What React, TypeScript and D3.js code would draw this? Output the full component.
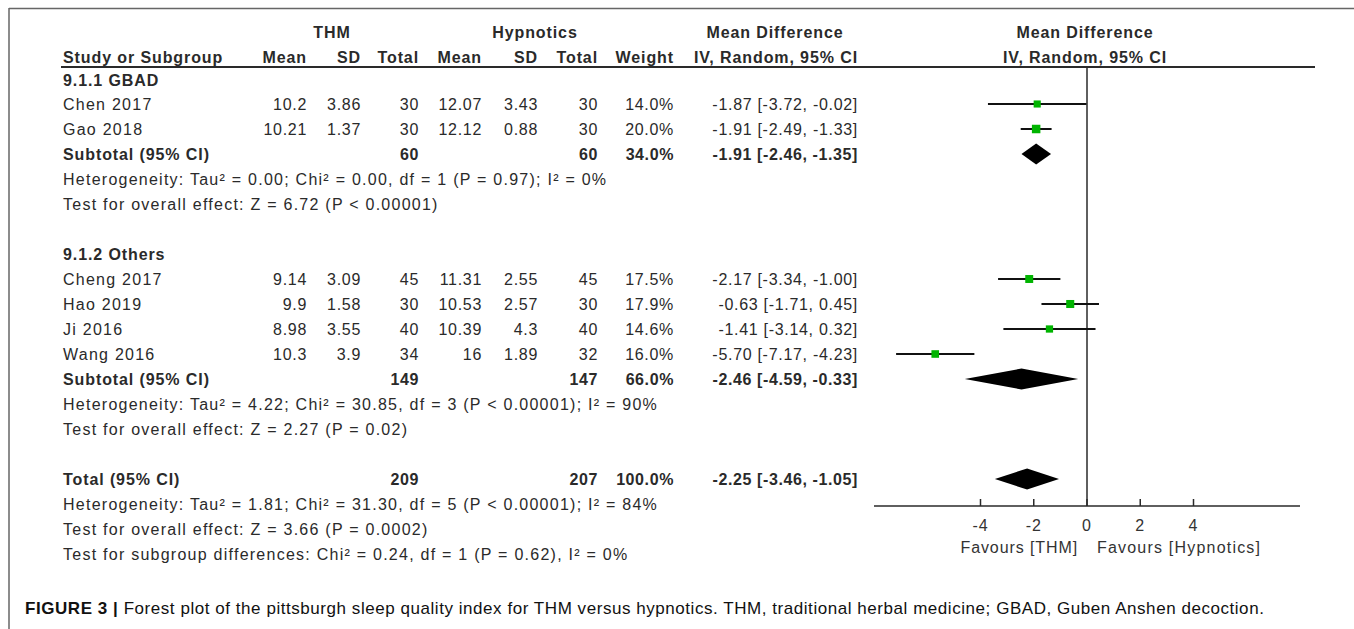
import React from 'react'
import * as d3 from 'd3'

// study rows per subgroup
const groupNames = ['9.1.1 GBAD', '9.1.2 Others']
const studyNames = [['Chen 2017', 'Gao 2018'], ['Cheng 2017', 'Hao 2019', 'Ji 2016', 'Wang 2016']]
const thmMean = [['10.2', '10.21'], ['9.14', '9.9', '8.98', '10.3']]
const thmSD = [['3.86', '1.37'], ['3.09', '1.58', '3.55', '3.9']]
const thmN = [[30, 30], [45, 30, 40, 34]]
const hypMean = [['12.07', '12.12'], ['11.31', '10.53', '10.39', '16']]
const hypSD = [['3.43', '0.88'], ['2.55', '2.57', '4.3', '1.89']]
const hypN = [[30, 30], [45, 30, 40, 32]]
const weights = [[14.0, 20.0], [17.5, 17.9, 14.6, 16.0]]
const md = [[-1.87, -1.91], [-2.17, -0.63, -1.41, -5.7]]
const lower = [[-3.72, -2.49], [-3.34, -1.71, -3.14, -7.17]]
const upper = [[-0.02, -1.33], [-1.0, 0.45, 0.32, -4.23]]

// subtotals
const subN1 = [60, 149]
const subN2 = [60, 147]
const subWeight = [34.0, 66.0]
const subMd = [-1.91, -2.46]
const subLo = [-2.46, -4.59]
const subHi = [-1.35, -0.33]
const subHet = [
  'Heterogeneity: Tau² = 0.00; Chi² = 0.00, df = 1 (P = 0.97); I² = 0%',
  'Heterogeneity: Tau² = 4.22; Chi² = 30.85, df = 3 (P < 0.00001); I² = 90%'
]
const subTest = [
  'Test for overall effect: Z = 6.72 (P < 0.00001)',
  'Test for overall effect: Z = 2.27 (P = 0.02)'
]

// overall
const totalN = [209, 207]
const totalMd = [-2.25, -3.46, -1.05]
const totalNotes = [
  'Heterogeneity: Tau² = 1.81; Chi² = 31.30, df = 5 (P < 0.00001); I² = 84%',
  'Test for overall effect: Z = 3.66 (P = 0.0002)',
  'Test for subgroup differences: Chi² = 0.24, df = 1 (P = 0.62), I² = 0%'
]

const axisTicks = [-4, -2, 0, 2, 4]
const axisDomain = [-8, 8]

const FONT = '"Liberation Sans", Arial, sans-serif'
const INK = '#2a2a2a'
const GREEN = '#00b400'

const fmt = (v: number) => v.toFixed(2)
const ciText = (m: number, l: number, h: number) => `${fmt(m)} [${fmt(l)}, ${fmt(h)}]`

export default function App() {
  const W = 1354
  const H = 629
  const x = d3.scaleLinear().domain(axisDomain).range([874, 1300])
  const box = d3.scaleSqrt().domain([0, 20]).range([0, 8.5])

  const rowStep = 25
  const firstRow = 104
  const col = { name: 63, m1: 307, sd1: 361, n1: 419, m2: 482, sd2: 538, n2: 598, w: 674, ci: 858 }
  const axisY = 506

  // build the row list
  type Row = { kind: string; y: number; g?: number; s?: number; text?: string }
  const rows: Row[] = []
  let idx = 0
  const yAt = (i: number) => firstRow + rowStep * (i - 1)
  groupNames.forEach((name, g) => {
    rows.push({ kind: 'group', y: g === 0 ? 80 : yAt(idx), text: name, g })
    idx++
    studyNames[g].forEach((_, s) => {
      rows.push({ kind: 'study', y: yAt(idx), g, s })
      idx++
    })
    rows.push({ kind: 'sub', y: yAt(idx), g })
    idx++
    rows.push({ kind: 'note', y: yAt(idx), text: subHet[g] })
    idx++
    rows.push({ kind: 'note', y: yAt(idx), text: subTest[g] })
    idx += 2
  })
  rows.push({ kind: 'total', y: yAt(idx) })
  idx++
  totalNotes.forEach(t => {
    rows.push({ kind: 'note', y: yAt(idx), text: t })
    idx++
  })
  const totalY = rows.find(r => r.kind === 'total')!.y

  const base = (y: number) => y + 6
  // ls: letter spacing; words get a bit more room than figures, as in the original
  const txt = (s: string | number, xx: number, y: number, bold = false, anchor = 'end', ls?: number) => (
    <text x={xx} y={base(y)} textAnchor={anchor} fontWeight={bold ? 'bold' : 'normal'}
      letterSpacing={ls ?? (bold ? 0.9 : 1.25)}>{s}</text>
  )
  const num = (s: string | number, xx: number, y: number, bold = false) => txt(s, xx, y, bold, 'end', bold ? 0.6 : 0.7)

  const diamond = (m: number, l: number, h: number, y: number, hh = 10.5) =>
    `M${x(l)},${y} L${x(m)},${y - hh} L${x(h)},${y} L${x(m)},${y + hh} Z`

  return (
    <svg width={W} height={H} style={{ position: 'absolute', left: 0, top: 0, background: '#fff' }}>
      {/* frame */}
      <line x1={9} x2={W} y1={8.5} y2={8.5} stroke="#666" strokeWidth={1.5} />
      <line x1={9} x2={9} y1={8} y2={H} stroke="#666" strokeWidth={1.5} />

      <g fontFamily={FONT} fontSize={16} fill={INK}>
        {/* headers */}
        {txt('THM', 332, 32, true, 'middle')}
        {txt('Hypnotics', 535, 32, true, 'middle')}
        {txt('Mean Difference', 775, 32, true, 'middle')}
        {txt('Mean Difference', 1085, 32, true, 'middle')}
        {txt('Study or Subgroup', col.name, 57, true, 'start')}
        {txt('Mean', col.m1, 57, true)}
        {txt('SD', col.sd1, 57, true)}
        {txt('Total', col.n1, 57, true)}
        {txt('Mean', col.m2, 57, true)}
        {txt('SD', col.sd2, 57, true)}
        {txt('Total', col.n2, 57, true)}
        {txt('Weight', col.w, 57, true)}
        {txt('IV, Random, 95% CI', col.ci, 57, true)}
        {txt('IV, Random, 95% CI', 1085, 57, true, 'middle')}
        <line x1={61} x2={1315} y1={67} y2={67} stroke={INK} strokeWidth={2} />

        {rows.map((r, i) => {
          if (r.kind === 'group') return <g key={i}>{txt(r.text!, col.name, r.y, true, 'start')}</g>
          if (r.kind === 'note') return <g key={i}>{txt(r.text!, col.name, r.y, false, 'start')}</g>
          if (r.kind === 'study') {
            const g = r.g!, s = r.s!
            return (
              <g key={i}>
                {txt(studyNames[g][s], col.name, r.y, false, 'start')}
                {num(thmMean[g][s], col.m1, r.y)}
                {num(thmSD[g][s], col.sd1, r.y)}
                {num(thmN[g][s], col.n1, r.y)}
                {num(hypMean[g][s], col.m2, r.y)}
                {num(hypSD[g][s], col.sd2, r.y)}
                {num(hypN[g][s], col.n2, r.y)}
                {num(weights[g][s].toFixed(1) + '%', col.w, r.y)}
                {num(ciText(md[g][s], lower[g][s], upper[g][s]), col.ci, r.y)}
              </g>
            )
          }
          if (r.kind === 'sub') {
            const g = r.g!
            return (
              <g key={i}>
                {txt('Subtotal (95% CI)', col.name, r.y, true, 'start')}
                {num(subN1[g], col.n1, r.y, true)}
                {num(subN2[g], col.n2, r.y, true)}
                {num(subWeight[g].toFixed(1) + '%', col.w, r.y, true)}
                {num(ciText(subMd[g], subLo[g], subHi[g]), col.ci, r.y, true)}
              </g>
            )
          }
          return (
            <g key={i}>
              {txt('Total (95% CI)', col.name, r.y, true, 'start')}
              {num(totalN[0], col.n1, r.y, true)}
              {num(totalN[1], col.n2, r.y, true)}
              {num('100.0%', col.w, r.y, true)}
              {num(ciText(totalMd[0], totalMd[1], totalMd[2]), col.ci, r.y, true)}
            </g>
          )
        })}
      </g>

      {/* forest plot */}
      <line x1={x(0)} x2={x(0)} y1={67} y2={axisY} stroke={INK} strokeWidth={1.5} />
      {rows.filter(r => r.kind === 'study').map((r, i) => {
        const g = r.g!, s = r.s!
        const sz = box(weights[g][s])
        return (
          <g key={i}>
            <line x1={x(lower[g][s])} x2={x(upper[g][s])} y1={r.y} y2={r.y} stroke="#111" strokeWidth={2} />
            <rect x={x(md[g][s]) - sz / 2} y={r.y - sz / 2} width={sz} height={sz} fill={GREEN} />
          </g>
        )
      })}
      {rows.filter(r => r.kind === 'sub').map((r, i) => (
        <path key={i} d={diamond(subMd[r.g!], subLo[r.g!], subHi[r.g!], r.y)} fill="#000" />
      ))}
      <path d={diamond(totalMd[0], totalMd[1], totalMd[2], totalY)} fill="#000" />

      {/* axis */}
      <line x1={x.range()[0]} x2={x.range()[1]} y1={axisY} y2={axisY} stroke={INK} strokeWidth={1.5} />
      <g fontFamily={FONT} fontSize={16} fill="#333" letterSpacing={0.9}>
        {axisTicks.map(t => (
          <g key={t}>
            <line x1={x(t)} x2={x(t)} y1={axisY - 7} y2={axisY} stroke={INK} strokeWidth={1.5} />
            <text x={x(t)} y={axisY + 25} textAnchor="middle">{t}</text>
          </g>
        ))}
        <text x={1078} y={553} textAnchor="end">Favours [THM]</text>
        <text x={1097} y={553} textAnchor="start" letterSpacing={1.2}>Favours [Hypnotics]</text>
      </g>

      {/* caption */}
      <text x={25} y={614} fontFamily={FONT} fontSize={17} fill="#111" letterSpacing={0.55}>
        <tspan fontWeight="bold">FIGURE 3 | </tspan>
        <tspan>Forest plot of the pittsburgh sleep quality index for THM versus hypnotics. THM, traditional herbal medicine; GBAD, Guben Anshen decoction.</tspan>
      </text>
    </svg>
  )
}
